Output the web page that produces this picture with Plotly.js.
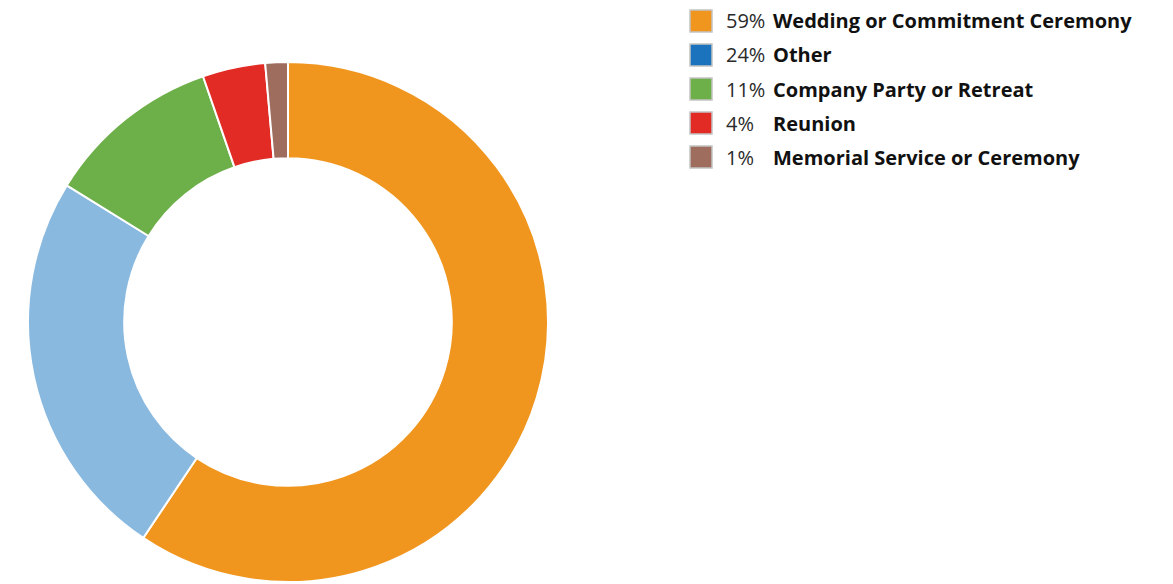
<!DOCTYPE html>
<html>
<head>
<meta charset="utf-8">
<script src="https://cdn.plot.ly/plotly-3.0.1.min.js"></script>
<style>
html,body{margin:0;padding:0;background:#fff;}
#chart{width:1173px;height:584px;}
</style>
</head>
<body>
<div id="chart"></div>
<script>
// Data
const categories = ["Wedding or Commitment Ceremony", "Other", "Company Party or Retreat", "Reunion", "Memorial Service or Ceremony"];
const values = [59.4, 24.4, 10.9, 3.9, 1.4];
const pctLabels = ["59%", "24%", "11%", "4%", "1%"];
const sliceColors = ["#F0961F", "#8AB9E0", "#6DAF48", "#E32B26", "#9E6D5E"];
const legendColors = ["#F0961F", "#1A73BC", "#6DAF48", "#E32B26", "#9E6D5E"];

const W = 1173, H = 584;
const px = x => x / W;
const py = y => 1 - y / H;

const trace = {
  type: "pie",
  labels: categories,
  values: values,
  sort: false,
  direction: "clockwise",
  rotation: 0,
  hole: 0.63,
  textinfo: "none",
  hoverinfo: "label+percent",
  marker: { colors: sliceColors, line: { color: "#ffffff", width: 2 } },
  domain: { x: [px(28), px(548)], y: [py(582), py(62)] },
  showlegend: false
};

const rowTop = 21, rowStep = 34;
const shapes = [];
const annotations = [];
categories.forEach((c, i) => {
  const cy = rowTop + i * rowStep;
  shapes.push({
    type: "rect", xref: "paper", yref: "paper",
    x0: px(690), x1: px(712), y0: py(cy - 11), y1: py(cy + 11),
    fillcolor: legendColors[i], line: { color: "#c4c4c4", width: 1.5 }
  });
  annotations.push({
    xref: "paper", yref: "paper", x: px(724), y: py(cy),
    xanchor: "left", yanchor: "middle", showarrow: false,
    text: pctLabels[i],
    font: { family: "Open Sans", size: 20, color: "#2a2a2a" }
  });
  annotations.push({
    xref: "paper", yref: "paper", x: px(771), y: py(cy),
    xanchor: "left", yanchor: "middle", showarrow: false,
    text: "<b>" + c + "</b>",
    font: { family: "Open Sans", size: 20, color: "#111111" }
  });
});

const layout = {
  width: W, height: H,
  margin: { l: 0, r: 0, t: 0, b: 0 },
  paper_bgcolor: "#ffffff",
  plot_bgcolor: "#ffffff",
  showlegend: false,
  shapes: shapes,
  annotations: annotations
};

Plotly.newPlot("chart", [trace], layout, { displayModeBar: false, staticPlot: true });
</script>
</body>
</html>
